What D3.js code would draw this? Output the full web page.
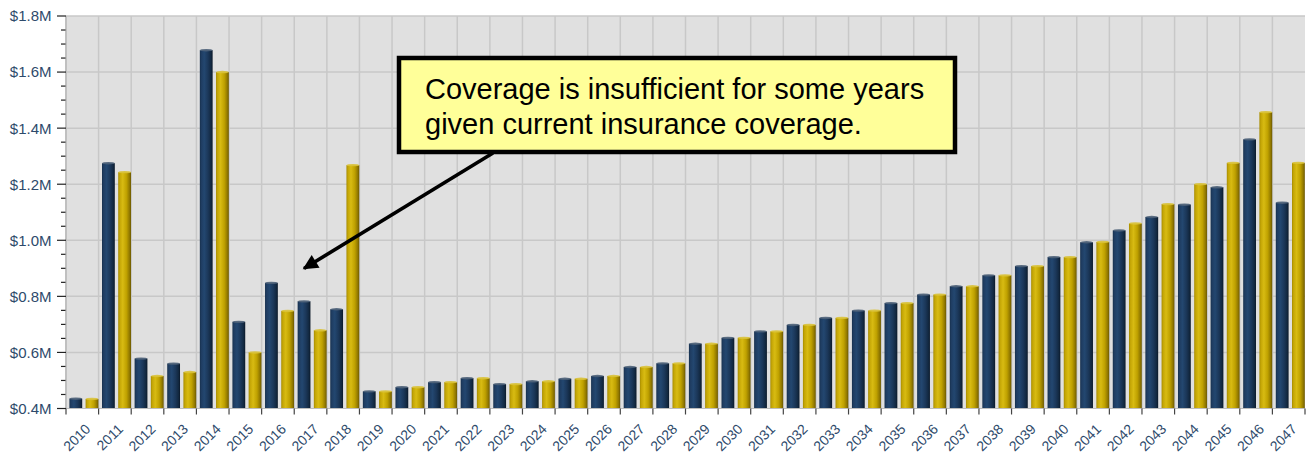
<!DOCTYPE html>
<html>
<head>
<meta charset="utf-8">
<script src="https://cdn.jsdelivr.net/npm/d3@7"></script>
<style>
  html, body { margin: 0; padding: 0; background: #ffffff; }
  svg { display: block; }
</style>
</head>
<body>
<svg id="chart" width="1307" height="455"></svg>
<script>
// ---------- data ----------
const years = [2010,2011,2012,2013,2014,2015,2016,2017,2018,2019,2020,2021,2022,2023,2024,2025,2026,2027,2028,2029,2030,2031,2032,2033,2034,2035,2036,2037,2038,2039,2040,2041,2042,2043,2044,2045,2046,2047];
const seriesNavy = [0.435,1.275,0.578,0.560,1.678,0.709,0.848,0.782,0.754,0.461,0.476,0.494,0.508,0.487,0.497,0.506,0.516,0.548,0.561,0.631,0.652,0.675,0.698,0.723,0.749,0.776,0.806,0.836,0.875,0.908,0.940,0.993,1.035,1.083,1.127,1.189,1.360,1.134];
const seriesGold = [0.434,1.243,0.516,0.530,1.600,0.600,0.748,0.679,1.268,0.461,0.476,0.494,0.508,0.487,0.497,0.506,0.516,0.548,0.561,0.631,0.652,0.675,0.698,0.723,0.749,0.776,0.806,0.836,0.875,0.908,0.940,0.994,1.060,1.129,1.200,1.276,1.457,1.276];
const seriesKeys = ["navy", "gold"];
const yTicks = [0.4, 0.6, 0.8, 1.0, 1.2, 1.4, 1.6, 1.8];
const annotationLines = ["Coverage is insufficient for some years", "given current insurance coverage."];

// ---------- layout ----------
const svg = d3.select("#chart");
const plotLeft = 66, plotRight = 1305, plotTop = 16, plotBottom = 408.5;
const labelColor = "#2e4a6b";

const x = d3.scaleBand().domain(years).range([plotLeft, plotRight]).paddingInner(0).paddingOuter(0);
const xInner = d3.scaleBand().domain(seriesKeys).range([3.4, x.bandwidth() - 0.2]).paddingInner(0.21).paddingOuter(0);
const y = d3.scaleLinear().domain([0.4, 1.8]).range([plotBottom, plotTop]);

const defs = svg.append("defs");
function grad(id, stops) {
  const g = defs.append("linearGradient").attr("id", id).attr("x1", "0%").attr("x2", "100%").attr("y1", "0%").attr("y2", "0%");
  stops.forEach(s => g.append("stop").attr("offset", s[0]).attr("stop-color", s[1]));
}
grad("gNavy", [["0%", "#17304d"], ["12%", "#1f3d62"], ["35%", "#234770"], ["65%", "#1b3759"], ["88%", "#122840"], ["100%", "#0b1828"]]);
grad("gGold", [["0%", "#a68b00"], ["12%", "#c4a606"], ["35%", "#d8bb12"], ["65%", "#bfa100"], ["88%", "#917800"], ["100%", "#6b5800"]]);

// plot background
svg.append("rect").attr("x", plotLeft).attr("y", plotTop).attr("width", plotRight - plotLeft).attr("height", plotBottom - plotTop).attr("fill", "#e0e0e0");

// gridlines
svg.append("g").selectAll("line").data(yTicks.slice(1)).join("line")
  .attr("x1", plotLeft).attr("x2", plotRight).attr("y1", d => y(d)).attr("y2", d => y(d))
  .attr("stroke", "#c8c8c8").attr("stroke-width", 1.5);
svg.append("g").selectAll("line").data(years.slice(1)).join("line")
  .attr("x1", d => x(d)).attr("x2", d => x(d)).attr("y1", plotTop).attr("y2", plotBottom)
  .attr("stroke", "#c8c8c8").attr("stroke-width", 1.5);

// left axis line
svg.append("line").attr("x1", plotLeft).attr("x2", plotLeft).attr("y1", plotTop).attr("y2", plotBottom).attr("stroke", "#c0c0c0").attr("stroke-width", 2);

// bars
const rows = years.map((yr, i) => ({ year: yr, navy: seriesNavy[i], gold: seriesGold[i] }));
const bw = xInner.bandwidth();
const gBars = svg.append("g");
rows.forEach(r => {
  seriesKeys.forEach(k => {
    const x0 = x(r.year) + xInner(k);
    const yt = y(r[k]);
    gBars.append("rect").attr("x", x0).attr("y", yt).attr("width", bw).attr("height", y(0.4) - yt)
      .attr("fill", k === "navy" ? "url(#gNavy)" : "url(#gGold)");
    gBars.append("ellipse").attr("cx", x0 + bw / 2).attr("cy", yt).attr("rx", bw / 2).attr("ry", 1.2)
      .attr("fill", k === "navy" ? "#4d6078" : "#d9c23a").attr("opacity", 0.9);
  });
});

// bottom axis line
svg.append("line").attr("x1", plotLeft).attr("x2", plotRight).attr("y1", plotBottom).attr("y2", plotBottom).attr("stroke", "#bdbdbd").attr("stroke-width", 1);

// x ticks
svg.append("g").selectAll("line").data(d3.range(years.length + 1)).join("line")
  .attr("x1", i => plotLeft + i * x.step()).attr("x2", i => plotLeft + i * x.step())
  .attr("y1", plotBottom).attr("y2", plotBottom + 6)
  .attr("stroke", "#444").attr("stroke-width", 1.2);

// x labels
svg.append("g").selectAll("text").data(years).join("text")
  .attr("transform", d => `translate(${x(d) + x.bandwidth() / 2 + 9},${plotBottom + 21.5}) rotate(-45)`)
  .attr("text-anchor", "end")
  .attr("font-family", "Liberation Sans, Arial, sans-serif").attr("font-size", 14)
  .attr("fill", labelColor)
  .text(d => d);

// y ticks (major + minor)
const minor = d3.range(0.45, 1.8, 0.05).filter(v => Math.abs(v * 5 - Math.round(v * 5)) > 1e-6);
svg.append("g").selectAll("line").data(minor).join("line")
  .attr("x1", 61).attr("x2", 65.5).attr("y1", d => y(d)).attr("y2", d => y(d))
  .attr("stroke", "#222").attr("stroke-width", 1.2);
svg.append("g").selectAll("line").data(yTicks).join("line")
  .attr("x1", 57).attr("x2", plotLeft).attr("y1", d => y(d)).attr("y2", d => y(d))
  .attr("stroke", "#222").attr("stroke-width", 1.2);
svg.append("g").selectAll("text").data(yTicks).join("text")
  .attr("x", 51.5).attr("y", d => y(d)).attr("dy", "0.36em")
  .attr("text-anchor", "end")
  .attr("font-family", "Liberation Sans, Arial, sans-serif").attr("font-size", 15)
  .attr("fill", labelColor)
  .text(d => "$" + d.toFixed(1) + "M");

// annotation box
svg.append("rect").attr("x", 399).attr("y", 58).attr("width", 556).attr("height", 94)
  .attr("fill", "#ffff99").attr("stroke", "#000").attr("stroke-width", 4.5);
svg.append("g").selectAll("text").data(annotationLines).join("text")
  .attr("x", 425).attr("y", (d, i) => 99 + i * 35)
  .attr("font-family", "Liberation Sans, Arial, sans-serif").attr("font-size", 29)
  .attr("fill", "#000")
  .text(d => d);

// arrow
defs.append("marker").attr("id", "arrowHead").attr("viewBox", "0 0 10 10").attr("refX", 9).attr("refY", 5)
  .attr("markerWidth", 5).attr("markerHeight", 4.2).attr("orient", "auto").attr("markerUnits", "strokeWidth")
  .append("path").attr("d", "M0,0 L10,5 L0,10 z").attr("fill", "#000");
svg.append("line").attr("x1", 493).attr("y1", 153).attr("x2", 304).attr("y2", 268.5)
  .attr("stroke", "#000").attr("stroke-width", 3.6).attr("marker-end", "url(#arrowHead)");
</script>
</body>
</html>
